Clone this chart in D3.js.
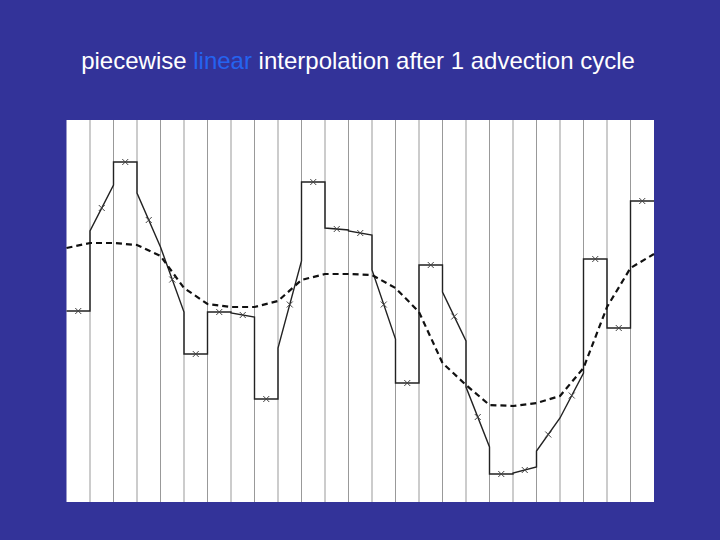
<!DOCTYPE html>
<html><head><meta charset="utf-8">
<script src="https://cdn.jsdelivr.net/npm/d3@7"></script>
<style>body{margin:0;background:#333399;}</style>
</head><body>
<svg id="chart" width="720" height="540"></svg>
<script>
// cell edge values of the reconstructed piecewise linear profile
var leftVals  = [191,271,340,309,255,148,190,189,103,154,320,274,271,232,119,237,210,115,28,29,51,84,243,174,301];
var rightVals = [191,317,340,255,190,148,190,185,103,241,320,272,267,163,119,237,161,55,28,35,84,129,243,174,301];
// dashed profile at the cell boundaries
var dashVals = [254,259,259,257,246,214,198,195,195,201,222,228,228,227,214,190,139,117,97,96,99,106,134,195,234,248];

var svg = d3.select("#chart");
svg.append("rect").attr("width", 720).attr("height", 540).attr("fill", "#333399");

var x = d3.scaleLinear().domain([0, 25]).range([66.5, 654]);
var y = d3.scaleLinear().domain([0, 382]).range([502, 120]);

svg.append("rect").attr("x", x(0)).attr("y", y(382))
    .attr("width", x(25) - x(0)).attr("height", y(0) - y(382)).attr("fill", "white");

svg.selectAll("line.grid").data(d3.range(1, 25)).enter().append("line")
    .attr("class", "grid")
    .attr("x1", d => x(d)).attr("x2", d => x(d))
    .attr("y1", y(382)).attr("y2", y(0))
    .attr("stroke", "#999").attr("stroke-width", 1);

// solid piecewise linear line (with jumps at cell boundaries)
var pts = [];
leftVals.forEach(function(v, i) {
    pts.push([i, v]);
    pts.push([i + 1, rightVals[i]]);
});
var line = d3.line().x(d => x(d[0])).y(d => y(d[1]));
svg.append("path").datum(pts).attr("d", line)
    .attr("fill", "none").attr("stroke", "#222").attr("stroke-width", 1.4);

// dashed line
svg.append("path").datum(dashVals.map((v, i) => [i, v])).attr("d", line)
    .attr("fill", "none").attr("stroke", "#111").attr("stroke-width", 2.2)
    .attr("stroke-dasharray", "6,4");

// cross markers at cell centres
var s = 3;
var cx = svg.selectAll("g.cross").data(leftVals).enter().append("g")
    .attr("class", "cross")
    .attr("transform", (d, i) => "translate(" + x(i + 0.5) + "," + y((d + rightVals[i]) / 2) + ")");
cx.append("line").attr("x1", -s).attr("y1", -s).attr("x2", s).attr("y2", s)
    .attr("stroke", "#444").attr("stroke-width", 1);
cx.append("line").attr("x1", -s).attr("y1", s).attr("x2", s).attr("y2", -s)
    .attr("stroke", "#444").attr("stroke-width", 1);

var t = svg.append("text").attr("x", 358).attr("y", 69).attr("text-anchor", "middle")
    .attr("font-family", "Liberation Sans, Arial, sans-serif").attr("font-size", 24)
    .attr("fill", "white");
t.append("tspan").text("piecewise ");
t.append("tspan").attr("fill", "#2563f0").text("linear");
t.append("tspan").text(" interpolation after 1 advection cycle");
</script>
</body></html>
